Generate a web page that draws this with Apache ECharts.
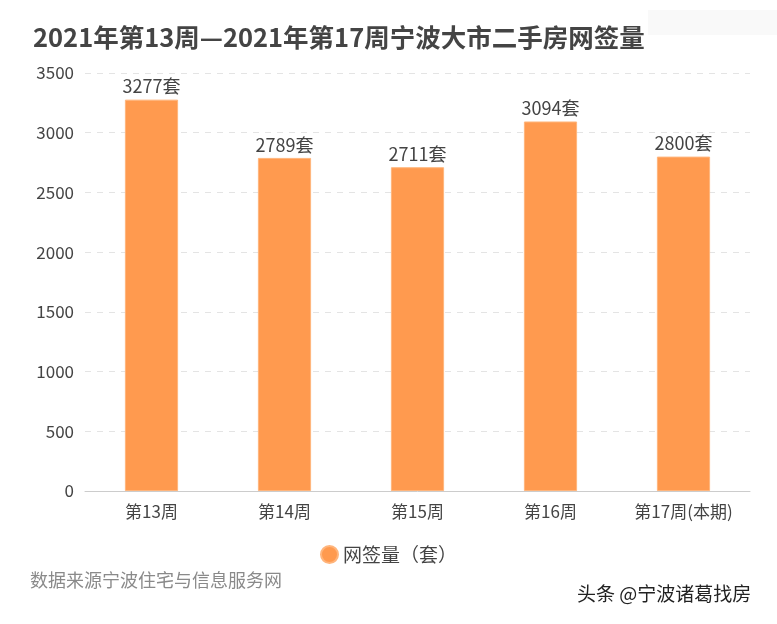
<!DOCTYPE html>
<html><head><meta charset="utf-8">
<script src="https://cdn.jsdelivr.net/npm/echarts@6/dist/echarts.min.js"></script>
<style>html,body{margin:0;padding:0;background:#fff}#c{width:777px;height:624px}</style>
</head><body><div id="c"></div>
<script>
const categories = ['第13周','第14周','第15周','第16周','第17周(本期)'];
const values = [3277, 2789, 2711, 3094, 2800];
const seriesName = '网签量（套）';
const titleText = '2021年第13周—2021年第17周宁波大市二手房网签量';
const sourceText = '数据来源宁波住宅与信息服务网';
const watermark = '头条 @宁波诸葛找房';

const font = '"Noto Sans CJK SC", "Noto Sans", sans-serif';
const chart = echarts.init(document.getElementById('c'), null, {renderer: 'canvas'});
chart.setOption({
  backgroundColor: '#fff',
  textStyle: {fontFamily: font},
  title: {text: titleText, left: 28, top: 20,
    textStyle: {fontSize: 25.5, fontWeight: 'bold', color: '#444', fontFamily: font}},
  legend: {top: 540, left: 'center', icon: 'circle', itemWidth: 17, itemHeight: 17, itemGap: 10,
    textStyle: {fontSize: 19, color: '#444', fontFamily: font}},
  grid: {left: 85, right: 27, top: 73, bottom: 133},
  xAxis: {type: 'category', data: categories,
    axisLine: {lineStyle: {color: '#ccc'}},
    axisTick: {alignWithLabel: true, lineStyle: {color: '#ccc'}},
    axisLabel: {fontSize: 17, color: '#444', margin: 12, fontFamily: font}},
  yAxis: {type: 'value', min: 0, max: 3500, interval: 500,
    axisLine: {show: false}, axisTick: {show: false},
    axisLabel: {fontSize: 17, color: '#444', margin: 11, fontFamily: font, formatter: v => String(v)},
    splitLine: {lineStyle: {type: [6, 6], color: '#e4e4e4'}}},
  series: [{name: seriesName, type: 'bar', data: values, barWidth: '40%',
    itemStyle: {color: '#FF9A4F', borderColor: '#FFB57C', borderWidth: 1},
    label: {show: true, position: 'top', formatter: '{c}套', fontSize: 18, color: '#444', distance: 4, fontFamily: font}}],
  graphic: [
    {type: 'rect', left: 648, top: 10, shape: {width: 129, height: 25}, style: {fill: '#f9f9f9'}, silent: true, z: -1},
    {type: 'text', left: 30, top: 571, style: {text: sourceText, fontSize: 18, fill: '#8a8a8a', fontFamily: font}},
    {type: 'text', left: 577, top: 584, style: {text: watermark, fontSize: 19, fill: '#222', fontFamily: font}}
  ]
});
</script></body></html>
